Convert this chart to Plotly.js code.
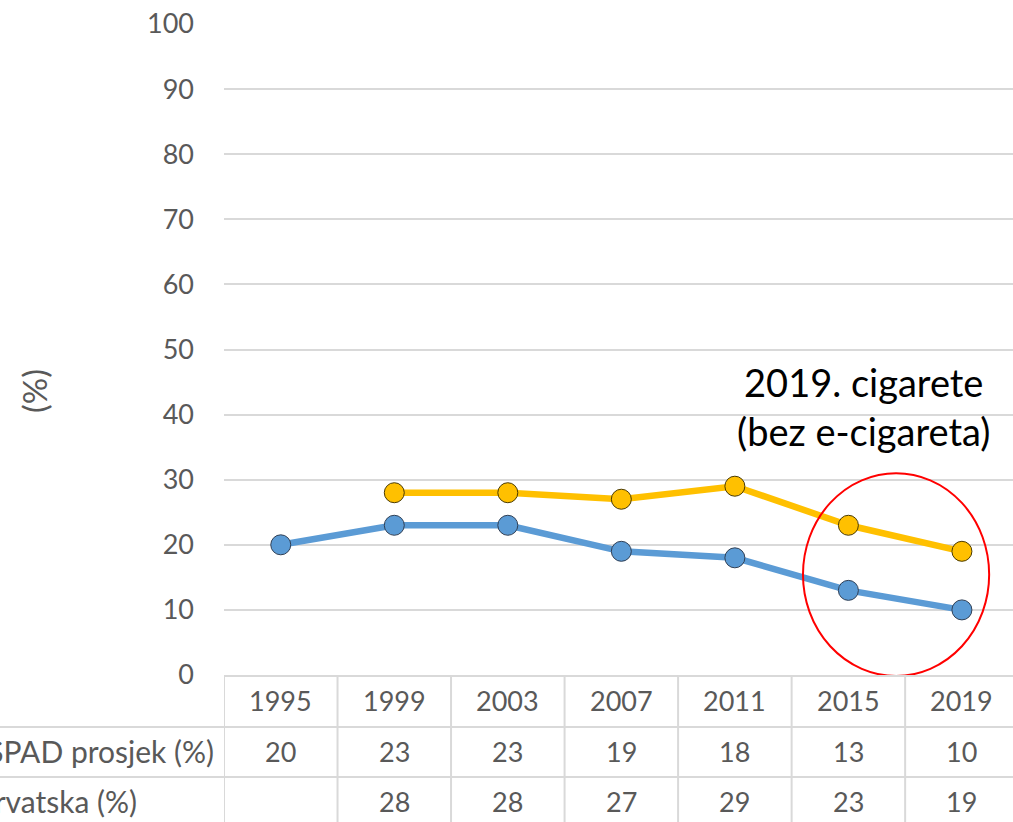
<!DOCTYPE html>
<html>
<head>
<meta charset="utf-8">
<script src="https://cdn.plot.ly/plotly-3.0.1.min.js"></script>
<style>html,body{margin:0;padding:0;background:#fff;overflow:hidden}#chart{width:1013px;height:822px}</style>
</head>
<body>
<div id="chart"></div>
<script>
var years = ['1995', '1999', '2003', '2007', '2011', '2015', '2019'];
var espad = [20, 23, 23, 19, 18, 13, 10];
var hrvatska = [null, 28, 28, 27, 29, 23, 19];
var seriesNames = ['ESPAD prosjek (%)', 'Hrvatska (%)'];
var yTicks = [0, 10, 20, 30, 40, 50, 60, 70, 80, 90, 100];
var noteText = '2019. cigarete<br>(bez e-cigareta)';

var FONT = 'Lato, "Open Sans", sans-serif';
var GREY = '#595959';
var GRID = '#D9D9D9';

var W = 1013, H = 822;
var mL = 224, mT = 24, mB = 147, mR = 0;
var plotW = W - mL - mR, plotH = H - mT - mB;
function px2paperX(px) { return (px - mL) / plotW; }
function px2paperY(py) { return (H - mB - py) / plotH; }

var traces = [
  {
    x: years, y: espad, name: seriesNames[0], type: 'scatter', mode: 'lines+markers',
    line: {color: '#5B9BD5', width: 6.5},
    marker: {color: '#5B9BD5', size: 20, line: {color: '#2F3F55', width: 1}}
  },
  {
    x: years, y: hrvatska, name: seriesNames[1], type: 'scatter', mode: 'lines+markers',
    connectgaps: false,
    line: {color: '#FFC000', width: 6.5},
    marker: {color: '#FFC000', size: 20, line: {color: '#4A3A00', width: 1}}
  }
];

var annotations = [];
var shapes = [];
var rowY = [px2paperY(700), px2paperY(751), px2paperY(801)];
var cellFont = {family: FONT, size: 27, color: GREY};

years.forEach(function (yr, i) {
  annotations.push({xref: 'x', yref: 'paper', x: i, y: rowY[0], text: yr, showarrow: false,
    xanchor: 'center', yanchor: 'middle', font: cellFont});
  annotations.push({xref: 'x', yref: 'paper', x: i, y: rowY[1], text: String(espad[i]), showarrow: false,
    xanchor: 'center', yanchor: 'middle', font: cellFont});
  if (hrvatska[i] !== null) {
    annotations.push({xref: 'x', yref: 'paper', x: i, y: rowY[2], text: String(hrvatska[i]), showarrow: false,
      xanchor: 'center', yanchor: 'middle', font: cellFont});
  }
});

// row labels (cut off at the left edge, as in the reference)
var labelFont = {family: FONT, size: 30, color: GREY};
annotations.push({xref: 'paper', yref: 'paper', x: px2paperX(216), y: rowY[1], text: seriesNames[0],
  showarrow: false, xanchor: 'right', yanchor: 'middle', font: labelFont});
annotations.push({xref: 'paper', yref: 'paper', x: px2paperX(139), y: rowY[2], text: seriesNames[1],
  showarrow: false, xanchor: 'right', yanchor: 'middle', font: labelFont});

// y axis title
annotations.push({xref: 'paper', yref: 'paper', x: px2paperX(34), y: px2paperY(391), text: '(%)',
  textangle: -90, showarrow: false, xanchor: 'center', yanchor: 'middle',
  font: {family: FONT, size: 33, color: GREY}});

// note
annotations.push({xref: 'x', yref: 'y', x: 5.13, y: 41.3, text: noteText, showarrow: false,
  xanchor: 'center', yanchor: 'middle', align: 'center',
  font: {family: FONT, size: 38, color: '#000000'}});

// table vertical lines at category boundaries
for (var b = 0; b < years.length; b++) {
  shapes.push({type: 'line', xref: 'x', yref: 'paper', x0: b - 0.5, x1: b - 0.5,
    y0: 0, y1: px2paperY(H + 5), line: {color: GRID, width: 2}, layer: 'above'});
}
// table horizontal lines
[727, 777].forEach(function (py) {
  shapes.push({type: 'line', xref: 'paper', yref: 'paper', x0: px2paperX(-5), x1: px2paperX(W + 5),
    y0: px2paperY(py), y1: px2paperY(py), line: {color: GRID, width: 2}, layer: 'above'});
});

// red ellipse
shapes.push({type: 'circle', xref: 'x', yref: 'y', x0: 4.6, x1: 6.24, y0: -0.15, y1: 31.0,
  line: {color: '#FF0000', width: 2}, fillcolor: 'rgba(0,0,0,0)', layer: 'above'});

var layout = {
  width: W, height: H,
  margin: {l: mL, r: mR, t: mT, b: mB, pad: 0},
  paper_bgcolor: '#ffffff', plot_bgcolor: '#ffffff',
  showlegend: false,
  font: {family: FONT, color: GREY},
  xaxis: {
    type: 'category', range: [-0.5, 6.45], showticklabels: false, ticks: '',
    showgrid: false, zeroline: false, showline: true, linecolor: GRID, linewidth: 2,
    fixedrange: true
  },
  yaxis: {
    range: [0, 100], tickvals: yTicks, ticktext: yTicks.map(String), showgrid: true,
    gridcolor: GRID, gridwidth: 2, zeroline: false, showline: false, ticks: '',
    ticklabelstandoff: 29,
    tickfont: {family: FONT, size: 27, color: GREY}, fixedrange: true
  },
  annotations: annotations,
  shapes: shapes
};

Plotly.newPlot('chart', traces, layout, {displayModeBar: false, staticPlot: true});
</script>
</body>
</html>
